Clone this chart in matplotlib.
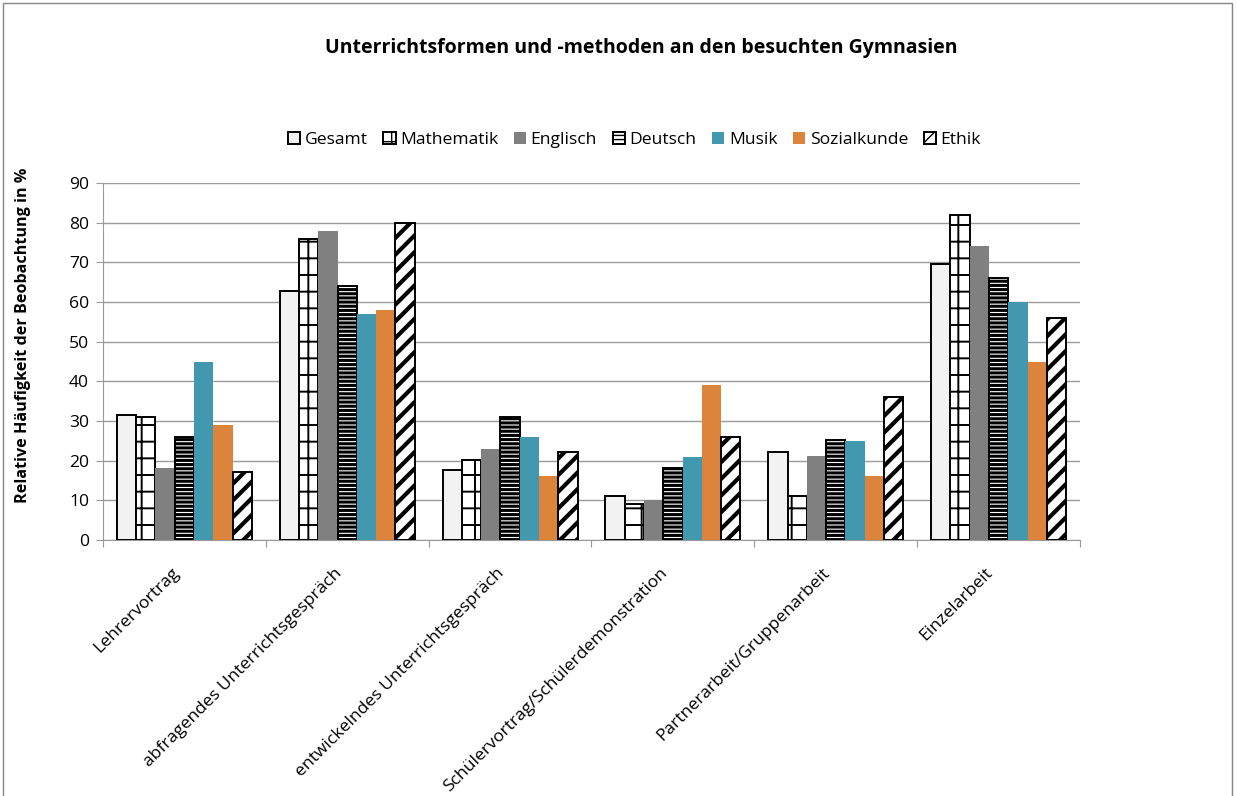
import numpy as np
import matplotlib.pyplot as plt
import matplotlib.transforms as mtransforms
from matplotlib.patches import Rectangle

plt.rcParams['font.family'] = ['Open Sans', 'DejaVu Sans']

# data
categories = ['Lehrervortrag', 'abfragendes Unterrichtsgespräch', 'entwickelndes Unterrichtsgespräch',
              'Schülervortrag/Schülerdemonstration', 'Partnerarbeit/Gruppenarbeit', 'Einzelarbeit']
series = ['Gesamt', 'Mathematik', 'Englisch', 'Deutsch', 'Musik', 'Sozialkunde', 'Ethik']
gesamt = [31.4, 62.8, 17.7, 11.1, 22.1, 69.5]
mathematik = [31.1, 76, 20.1, 9.2, 11.1, 82]
englisch = [18.1, 78, 22.9, 10.1, 21.2, 74]
deutsch = [26, 64, 31.1, 18.1, 25.1, 66]
musik = [45, 57, 26, 21, 25, 60]
sozialkunde = [29, 58, 16.1, 39, 16.1, 45]
ethik = [17.2, 80, 22.2, 26, 36, 56]
yticks = [0, 10, 20, 30, 40, 50, 60, 70, 80, 90]

values = [gesamt, mathematik, englisch, deutsch, musik, sozialkunde, ethik]

# style per series: facecolor, edgecolor, hatch, hatch linewidth
styles = [
    ('#F2F2F2', 'black', None, 1.0),
    ('white', 'black', '+', 1.4),
    ('#808080', 'none', None, 1.0),
    ('white', 'black', '----', 2.2),
    ('#4198AF', 'none', None, 1.0),
    ('#DD843C', 'none', None, 1.0),
    ('white', 'black', '//', 3.0),
]

fs = 12.6

fig = plt.figure(figsize=(12.37, 7.96), dpi=100)
ax = fig.add_axes([103/1237, 1-540/796, (1080-103)/1237, (540-183)/796])

x = np.arange(len(categories))
w = 0.1185
handles = []
for j, (name, vals, st) in enumerate(zip(series, values, styles)):
    fc, ec, hatch, hlw = st
    bars = ax.bar(x + (j - 3) * w, vals, width=w, color=fc, edgecolor=ec,
                  hatch=hatch, linewidth=1.4 if ec != 'none' else 0, label=name, zorder=3)
    for b in bars:
        if hatch and hasattr(b, 'set_hatch_linewidth'):
            b.set_hatch_linewidth(hlw)
    handles.append(bars)

ax.set_ylim(0, 90)
ax.set_xlim(-0.5, len(categories) - 0.5)
ax.set_yticks(yticks)
ax.yaxis.grid(True, color='#9A9A9A', linewidth=1.0, zorder=0)
ax.set_axisbelow(True)
for s in ['top', 'right']:
    ax.spines[s].set_visible(False)
ax.spines['left'].set_color('#9A9A9A')
ax.spines['bottom'].set_color('#9A9A9A')
ax.tick_params(axis='y', length=5, color='#9A9A9A', labelsize=fs, pad=5)

# category boundary ticks
ax.set_xticks(np.arange(len(categories) + 1) - 0.5)
ax.set_xticklabels([])
ax.tick_params(axis='x', length=5, color='#9A9A9A')
ax.set_xticks(x, minor=True)
ax.set_xticklabels(categories, minor=True, rotation=45, ha='right', va='center',
                   rotation_mode='anchor', fontsize=fs)
ax.tick_params(axis='x', which='minor', length=0, pad=22)
shift = mtransforms.ScaledTranslation(-8/100, 0, fig.dpi_scale_trans)
for lab in ax.get_xticklabels(minor=True):
    lab.set_transform(lab.get_transform() + shift)

fig.text(0.518, 1-48/796, 'Unterrichtsformen und -methoden an den besuchten Gymnasien',
         ha='center', va='center', fontsize=14, fontweight='bold')
fig.text(23/1237, 1-335/796, 'Relative Häufigkeit der Beobachtung in %', rotation=90,
         ha='center', va='center', fontsize=11.6, fontweight='bold')

leg = fig.legend(handles=handles, labels=series, loc='center', bbox_to_anchor=(0.513, 1-140/796),
                 ncol=7, frameon=False, fontsize=fs, handlelength=0.7, handleheight=0.7,
                 handletextpad=0.25, columnspacing=0.9)

# outer chart border
fig.patches.append(Rectangle((3/1237, -0.01), 1229/1237, 1-3/796+0.01, transform=fig.transFigure,
                             fill=False, edgecolor='#868686', linewidth=1.0))

fig.savefig('out.png', dpi=100)
